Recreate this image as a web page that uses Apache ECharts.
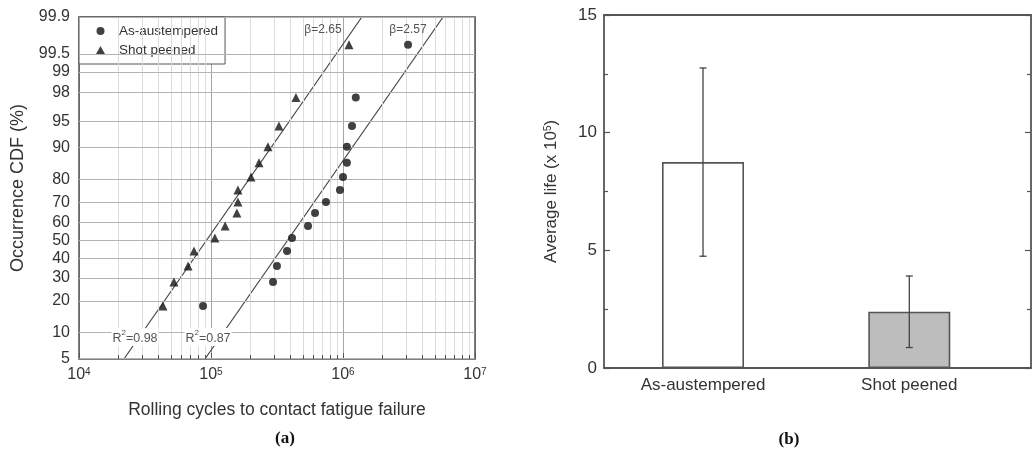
<!DOCTYPE html>
<html>
<head>
<meta charset="utf-8">
<script src="https://cdn.jsdelivr.net/npm/echarts@6.0.0/dist/echarts.min.js"></script>
<style>
  html, body { margin: 0; padding: 0; background: #fff; }
  #chart { width: 1032px; height: 460px; }
</style>
</head>
<body>
<div id="chart"></div>
<script>
// ---- data ----
// (a) probability plot
var pctTicks = [5, 10, 20, 30, 40, 50, 60, 70, 80, 90, 95, 98, 99, 99.5, 99.9];
var rankPct = [18.1, 28.1, 36.1, 44.1, 51.2, 57.8, 64.7, 70.2, 75.7, 80.9, 85.8, 90.2, 94.3, 97.6, 99.66];
var cyclesAustempered = [8.7e4, 2.95e5, 3.16e5, 3.77e5, 4.11e5, 5.43e5, 6.14e5, 7.43e5, 9.49e5, 1.0e6, 1.07e6, 1.07e6, 1.17e6, 1.25e6, 3.11e6];
var cyclesShotPeened = [4.33e4, 5.24e4, 6.7e4, 7.43e4, 1.07e5, 1.28e5, 1.57e5, 1.6e5, 1.6e5, 2.01e5, 2.31e5, 2.7e5, 3.27e5, 4.4e5, 1.11e6];
var fitAustempered = [[9.0e4, 5], [5.73e6, 99.9]];
var fitShotPeened = [[2.19e4, 5], [1.39e6, 99.9]];
var decades = [1e4, 1e5, 1e6];
var minorSteps = [2, 3, 4, 5, 6, 7, 8, 9];
// (b) bar chart
var barCategories = ['As-austempered', 'Shot peened'];
var barMeans = [8.75, 2.39];
var barErrors = [4.0, 1.52];
var barFills = ['#ffffff', '#bdbdbd'];

var FONT = '"Liberation Sans", Arial, sans-serif';
var INK = '#333';
var FRAME = '#555';

// normal probability scale (inverse normal CDF, Acklam)
function probit(p) {
  var a = [-3.969683028665376e+01, 2.209460984245205e+02, -2.759285104469687e+02, 1.383577518672690e+02, -3.066479806614716e+01, 2.506628277459239e+00];
  var b = [-5.447609879822406e+01, 1.615858368580409e+02, -1.556989798598866e+02, 6.680131188771972e+01, -1.328068155288572e+01];
  var c = [-7.784894002430293e-03, -3.223964580411365e-01, -2.400758277161838e+00, -2.549671348593765e+00, 4.374664141464968e+00, 2.938163982698783e+00];
  var d = [7.784695709041462e-03, 3.224671290700398e-01, 2.445134137142996e+00, 3.754408661907416e+00];
  var pl = 0.02425, q, r;
  if (p < pl) {
    q = Math.sqrt(-2 * Math.log(p));
    return (((((c[0]*q+c[1])*q+c[2])*q+c[3])*q+c[4])*q+c[5]) / ((((d[0]*q+d[1])*q+d[2])*q+d[3])*q+1);
  }
  if (p <= 1 - pl) {
    q = p - 0.5; r = q * q;
    return (((((a[0]*r+a[1])*r+a[2])*r+a[3])*r+a[4])*r+a[5])*q / (((((b[0]*r+b[1])*r+b[2])*r+b[3])*r+b[4])*r+1);
  }
  q = Math.sqrt(-2 * Math.log(1 - p));
  return -(((((c[0]*q+c[1])*q+c[2])*q+c[3])*q+c[4])*q+c[5]) / ((((d[0]*q+d[1])*q+d[2])*q+d[3])*q+1);
}
function zOf(pct) { return probit(pct / 100); }

var zMin = zOf(pctTicks[0]);
var zMax = zOf(pctTicks[pctTicks.length - 1]);

function pts(xs, ps) { return xs.map(function (x, i) { return [x, zOf(ps[i])]; }); }
function fit(line) { return line.map(function (p) { return [p[0], zOf(p[1])]; }); }

var vMinor = [], xMinorTicks = [];
decades.forEach(function (dv) {
  minorSteps.forEach(function (m) {
    vMinor.push({ xAxis: m * dv });
    xMinorTicks.push([{ coord: [m * dv, zMin] }, { coord: [m * dv, zMin + 0.055] }]);
  });
});

var chart = echarts.init(document.getElementById('chart'), null, { renderer: 'canvas' });

var frameAxis = function (extra) {
  var base = {
    axisLine: { show: true, onZero: false, lineStyle: { color: FRAME, width: 1.5 } },
    axisTick: { show: false }, axisLabel: { show: false }, splitLine: { show: false }
  };
  return Object.assign(base, extra);
};

var option = {
  animation: false,
  backgroundColor: '#fff',
  textStyle: { fontFamily: FONT },
  grid: [
    { left: 79, top: 17, width: 396, height: 342 },
    { left: 604, top: 15, width: 427, height: 353 }
  ],
  legend: {
    data: ['As-austempered', 'Shot peened'],
    orient: 'vertical',
    left: 79, top: 17,
    padding: [7, 7, 7, 17],
    itemGap: 5,
    itemWidth: 9, itemHeight: 8,
    backgroundColor: '#fff',
    borderColor: FRAME, borderWidth: 1,
    borderRadius: 0,
    textStyle: { fontSize: 13.5, color: INK, fontFamily: FONT, padding: [0, 0, 0, 9] },
    selectedMode: false
  },
  xAxis: [
    {
      type: 'log', logBase: 10, gridIndex: 0, min: 1e4, max: 1e7, position: 'bottom',
      axisLine: { onZero: false, lineStyle: { color: FRAME, width: 1.5 } },
      axisTick: { inside: true, length: 6, lineStyle: { color: FRAME } },
      axisLabel: {
        margin: 8, color: INK,
        formatter: function (v) { return '{b|10}{s|' + Math.round(Math.log10(v)) + '}'; },
        rich: {
          b: { fontSize: 16, fontFamily: FONT, color: INK },
          s: { fontSize: 10, fontFamily: FONT, color: INK, verticalAlign: 'top' }
        }
      },
      splitLine: { show: true, lineStyle: { color: '#a6a6a6', width: 1 } },
      name: 'Rolling cycles to contact fatigue failure',
      nameLocation: 'middle', nameGap: 42,
      nameTextStyle: { fontSize: 17.5, color: INK, fontFamily: FONT }
    },
    frameAxis({ type: 'log', logBase: 10, gridIndex: 0, min: 1e4, max: 1e7, position: 'top' }),
    frameAxis({ type: 'value', gridIndex: 1, min: 0.52, max: 2.59, position: 'bottom',
      axisLine: { show: true, onZero: false, lineStyle: { color: FRAME, width: 1.8 } } }),
    frameAxis({ type: 'value', gridIndex: 1, min: 0.52, max: 2.59, position: 'top',
      axisLine: { show: true, onZero: false, lineStyle: { color: FRAME, width: 1.8 } } })
  ],
  yAxis: [
    frameAxis({
      type: 'value', gridIndex: 0, min: zMin, max: zMax, position: 'left',
      name: 'Occurrence CDF (%)', nameLocation: 'middle', nameGap: 52, nameRotate: 90,
      nameTextStyle: { fontSize: 18, color: INK, fontFamily: FONT }
    }),
    frameAxis({ type: 'value', gridIndex: 0, min: zMin, max: zMax, position: 'right' }),
    {
      type: 'value', gridIndex: 1, min: 0, max: 15, interval: 5, position: 'left',
      axisLine: { show: true, onZero: false, lineStyle: { color: FRAME, width: 1.8 } },
      axisTick: { inside: true, length: 6, lineStyle: { color: FRAME, width: 1.2 } },
      minorTick: { show: true, splitNumber: 2, length: 4, lineStyle: { color: FRAME, width: 1.2 } },
      axisLabel: { margin: 7, fontSize: 17, color: INK, fontFamily: FONT },
      splitLine: { show: false },
      name: '{t|Average life (x 10}{s|5}{t|)}', nameLocation: 'middle', nameGap: 44, nameRotate: 90,
      nameTextStyle: {
        color: INK, fontFamily: FONT,
        rich: {
          t: { fontSize: 17, color: INK, fontFamily: FONT },
          s: { fontSize: 10, color: INK, fontFamily: FONT, verticalAlign: 'top' }
        }
      }
    },
    {
      type: 'value', gridIndex: 1, min: 0, max: 15, interval: 5, position: 'right',
      axisLine: { show: true, onZero: false, lineStyle: { color: FRAME, width: 1.8 } },
      axisTick: { inside: true, length: 6, lineStyle: { color: FRAME, width: 1.2 } },
      minorTick: { show: true, splitNumber: 2, length: 4, lineStyle: { color: FRAME, width: 1.2 } },
      axisLabel: { show: false }, splitLine: { show: false }
    }
  ],
  series: [
    // vertical minor grid lines (2..9 x 10^n)
    {
      type: 'line', name: 'vgrid', xAxisIndex: 0, yAxisIndex: 0, data: [], z: 1, silent: true,
      markLine: {
        silent: true, symbol: ['none', 'none'], animation: false,
        label: { show: false },
        lineStyle: { type: 'solid', color: '#dcdcdc', width: 1 },
        data: vMinor
      }
    },
    // horizontal grid lines + probability labels
    {
      type: 'line', name: 'hgrid', xAxisIndex: 0, yAxisIndex: 0, data: [], z: 1, silent: true,
      markLine: {
        silent: true, symbol: ['none', 'none'], animation: false,
        lineStyle: { type: 'solid', color: '#b3b3b3', width: 1 },
        label: { show: true, position: 'start', distance: 9, fontSize: 16, color: INK, fontFamily: FONT },
        data: pctTicks.map(function (p) { return { yAxis: zOf(p), label: { formatter: String(p) } }; })
      }
    },
    // minor ticks on the bottom axis
    {
      type: 'line', name: 'xticks', xAxisIndex: 0, yAxisIndex: 0, data: [], z: 3, silent: true,
      markLine: {
        silent: true, symbol: ['none', 'none'], animation: false,
        label: { show: false },
        lineStyle: { type: 'solid', color: FRAME, width: 1 },
        data: xMinorTicks
      }
    },
    {
      type: 'line', name: 'fitShot', xAxisIndex: 0, yAxisIndex: 0, data: fit(fitShotPeened),
      showSymbol: false, lineStyle: { color: '#444', width: 1.2 }, z: 4, silent: true
    },
    {
      type: 'line', name: 'fitAust', xAxisIndex: 0, yAxisIndex: 0, data: fit(fitAustempered),
      showSymbol: false, lineStyle: { color: '#444', width: 1.2 }, z: 4, silent: true
    },
    {
      type: 'scatter', name: 'As-austempered', xAxisIndex: 0, yAxisIndex: 0,
      data: pts(cyclesAustempered, rankPct),
      symbol: 'circle', symbolSize: 8, itemStyle: { color: '#111' }, z: 6
    },
    {
      type: 'scatter', name: 'Shot peened', xAxisIndex: 0, yAxisIndex: 0,
      data: pts(cyclesShotPeened, rankPct),
      symbol: 'triangle', symbolSize: 9, itemStyle: { color: '#111' }, z: 6
    },
    // (b) bars
    {
      type: 'bar', name: 'avg', xAxisIndex: 2, yAxisIndex: 2, barWidth: 82, z: 3,
      data: barMeans.map(function (m, i) {
        return { value: [i + 1, m], itemStyle: { color: barFills[i] } };
      }),
      itemStyle: { borderColor: FRAME, borderWidth: 1.6 },
      label: {
        show: true, position: 'bottom', distance: 9,
        fontSize: 17, color: INK, fontFamily: FONT,
        formatter: function (p) { return barCategories[p.dataIndex]; }
      }
    },
    {
      type: 'custom', name: 'err', xAxisIndex: 2, yAxisIndex: 2, z: 5, silent: true,
      data: barMeans.map(function (m, i) { return [i + 1, m, barErrors[i]]; }),
      encode: { x: 0, y: 1 },
      renderItem: function (params, api) {
        var x = api.value(0), m = api.value(1), e = api.value(2);
        var top = api.coord([x, m + e]);
        var bot = api.coord([x, m - e]);
        var w = 3.5;
        var st = { stroke: '#444', lineWidth: 1.3 };
        return {
          type: 'group',
          children: [
            { type: 'line', shape: { x1: top[0], y1: top[1], x2: bot[0], y2: bot[1] }, style: st },
            { type: 'line', shape: { x1: top[0] - w, y1: top[1], x2: top[0] + w, y2: top[1] }, style: st },
            { type: 'line', shape: { x1: bot[0] - w, y1: bot[1], x2: bot[0] + w, y2: bot[1] }, style: st }
          ]
        };
      }
    }
  ],
  graphic: [
    { type: 'text', x: 323, y: 30, z: 100, style: { text: 'β=2.65', fontSize: 12, fill: '#555', fontFamily: FONT, align: 'center', verticalAlign: 'middle' } },
    { type: 'text', x: 408, y: 30, z: 100, style: { text: 'β=2.57', fontSize: 12, fill: '#555', fontFamily: FONT, align: 'center', verticalAlign: 'middle' } },
    {
      type: 'text', x: 135, y: 337, z: 100,
      style: {
        text: '{r|R}{s|2}{r|=0.98}', align: 'center', verticalAlign: 'middle', backgroundColor: '#fff', padding: [1, 1],
        rich: { r: { fontSize: 12.5, fill: '#555', fontFamily: FONT, lineHeight: 16, verticalAlign: 'bottom' }, s: { fontSize: 8, fill: '#555', fontFamily: FONT, lineHeight: 16, verticalAlign: 'top' } }
      }
    },
    {
      type: 'text', x: 208, y: 337, z: 100,
      style: {
        text: '{r|R}{s|2}{r|=0.87}', align: 'center', verticalAlign: 'middle', backgroundColor: '#fff', padding: [1, 1],
        rich: { r: { fontSize: 12.5, fill: '#555', fontFamily: FONT, lineHeight: 16, verticalAlign: 'bottom' }, s: { fontSize: 8, fill: '#555', fontFamily: FONT, lineHeight: 16, verticalAlign: 'top' } }
      }
    },
    { type: 'text', x: 285, y: 439, style: { text: '(a)', fontSize: 17, fontWeight: 'bold', fill: '#111', fontFamily: '"Liberation Serif", "DejaVu Serif", serif', align: 'center', verticalAlign: 'middle' } },
    { type: 'text', x: 789, y: 440, style: { text: '(b)', fontSize: 17, fontWeight: 'bold', fill: '#111', fontFamily: '"Liberation Serif", "DejaVu Serif", serif', align: 'center', verticalAlign: 'middle' } }
  ]
};

chart.setOption(option);
</script>
</body>
</html>
